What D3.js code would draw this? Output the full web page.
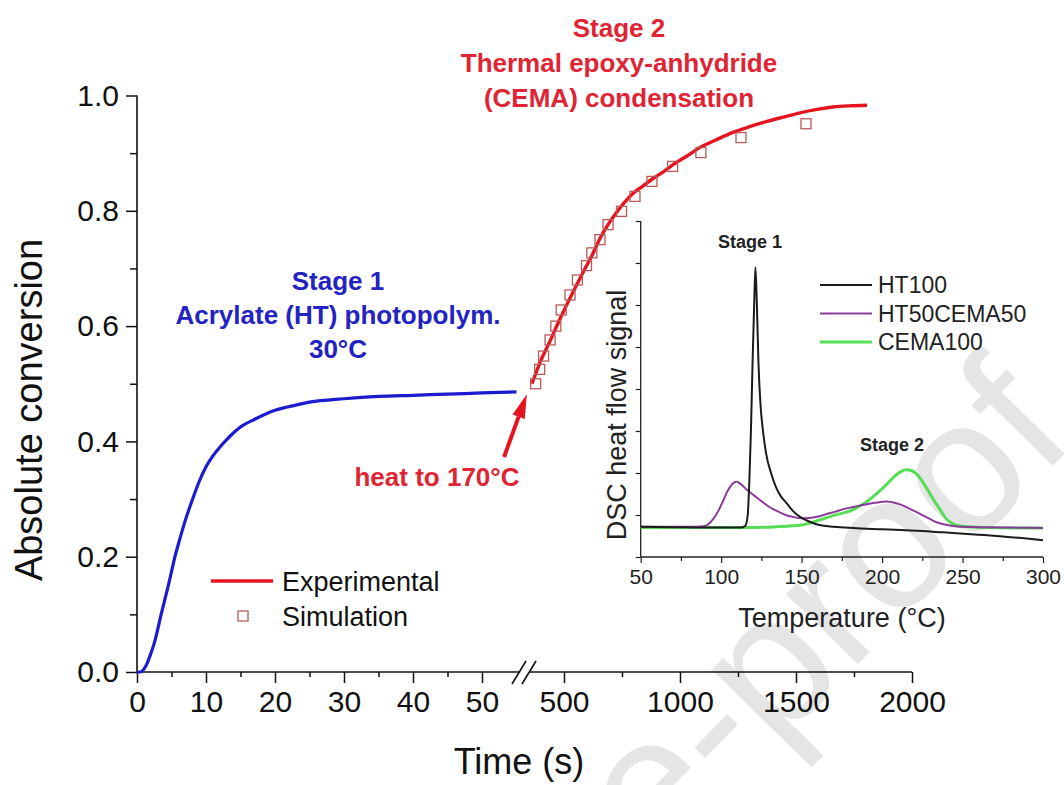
<!DOCTYPE html>
<html>
<head>
<meta charset="utf-8">
<script src="https://cdn.jsdelivr.net/npm/d3@7"></script>
<style>
  body { margin: 0; background: #fff; }
  svg { display: block; }
  text { font-family: "Liberation Sans", Arial, Helvetica, sans-serif; }
</style>
</head>
<body>
<svg id="chart" width="1064" height="785"></svg>
<script>
// ---- Stage 1: photopolymerisation at 30 °C (time in s, 0–55 s segment) ----
const stage1Time = [0, 0.5, 1, 1.5, 2, 2.5, 3, 3.5, 4, 4.5, 5, 5.5, 6, 7, 8, 9, 10, 11, 12, 13, 14, 15, 17, 20, 23, 25, 30, 35, 40, 45, 50, 55];
const stage1Conv = [0, 0, 0.005, 0.016, 0.032, 0.05, 0.074, 0.10, 0.124, 0.148, 0.174, 0.2, 0.222, 0.263, 0.298, 0.33, 0.356, 0.375, 0.39, 0.403, 0.415, 0.425, 0.438, 0.454, 0.463, 0.468, 0.474, 0.478, 0.480, 0.482, 0.484, 0.486];

// ---- Stage 2: thermal epoxy-anhydride condensation (time in s, 360–2000 s segment) ----
const stage2Time = [362, 400, 440, 480, 513, 550, 582, 620, 655, 690, 728, 760, 797, 840, 884, 930, 970, 1030, 1086, 1150, 1228, 1300, 1375, 1450, 1517, 1591, 1659, 1730, 1806];
const stage2Conv = [0.500, 0.540, 0.574, 0.610, 0.638, 0.668, 0.693, 0.722, 0.752, 0.776, 0.798, 0.814, 0.830, 0.843, 0.856, 0.868, 0.880, 0.895, 0.910, 0.922, 0.936, 0.946, 0.955, 0.963, 0.970, 0.976, 0.980, 0.982, 0.983];

// ---- Simulation points ----
const simTime = [378, 395, 412, 440, 465, 488, 526, 558, 597, 620, 655, 690, 748, 806, 879, 968, 1090, 1263, 1543];
const simConv = [0.500, 0.525, 0.548, 0.576, 0.600, 0.628, 0.654, 0.680, 0.705, 0.727, 0.750, 0.776, 0.799, 0.825, 0.851, 0.877, 0.901, 0.927, 0.951];

// ---- Axis ticks ----
const yTicks = [0, 0.2, 0.4, 0.6, 0.8, 1.0];
const yMinorTicks = [0.1, 0.3, 0.5, 0.7, 0.9];
const x1Ticks = [0, 10, 20, 30, 40, 50];
const x1MinorTicks = [5, 15, 25, 35, 45];
const x2Ticks = [500, 1000, 1500, 2000];
const x2MinorTicks = [750, 1250, 1750];

// ---- Inset: DSC heat flow (arb. units) vs temperature (°C) ----
const ht100Temp = [50, 70, 90, 105, 112, 115, 116.5, 117.5, 118.5, 119.5, 120.5, 121.3, 122.2, 123.2, 124.5, 126, 128, 131, 134, 137, 140.5, 145, 150, 155, 161, 170, 182, 200, 212, 230, 244, 260, 275, 290, 300];
const ht100Flow = [0.72, 0.71, 0.70, 0.70, 0.70, 0.74, 1.0, 1.8, 3.0, 4.6, 6.0, 6.9, 6.0, 4.6, 3.6, 3.0, 2.45, 2.0, 1.67, 1.45, 1.29, 1.08, 0.93, 0.84, 0.76, 0.72, 0.69, 0.66, 0.64, 0.61, 0.57, 0.53, 0.49, 0.44, 0.40];

const ht50Temp = [50, 70, 85, 89, 92, 95, 98, 101, 104, 107, 109.5, 112, 116, 120, 125, 130, 135, 140, 145, 150, 155, 161, 166, 171, 176, 182, 187, 192, 197, 202, 207, 212, 217, 223, 228, 233, 238, 244, 250, 260, 280, 300];
const ht50Flow = [0.72, 0.72, 0.72, 0.73, 0.78, 0.9, 1.08, 1.32, 1.57, 1.74, 1.79, 1.74, 1.6, 1.48, 1.33, 1.19, 1.09, 1.0, 0.95, 0.92, 0.93, 0.97, 1.03, 1.08, 1.14, 1.19, 1.23, 1.27, 1.30, 1.32, 1.30, 1.24, 1.15, 1.04, 0.94, 0.84, 0.78, 0.74, 0.72, 0.71, 0.70, 0.69];

const cema100Temp = [50, 80, 110, 130, 140, 150, 161, 170, 181.6, 187, 192, 197, 202.4, 208.6, 212, 215, 218, 221, 224, 227.2, 230, 233.4, 236.5, 239.6, 243.6, 248, 254, 265, 280, 300];
const cema100Flow = [0.70, 0.70, 0.70, 0.71, 0.73, 0.76, 0.88, 0.99, 1.12, 1.23, 1.36, 1.52, 1.71, 1.95, 2.04, 2.08, 2.06, 1.99, 1.86, 1.67, 1.49, 1.28, 1.10, 0.92, 0.80, 0.74, 0.72, 0.70, 0.69, 0.69];

const insetXTicks = [50, 100, 150, 200, 250, 300];
const insetXMinorTicks = [75, 125, 175, 225, 275];
const insetYTicks = [0, 1, 2, 3, 4, 5, 6, 7, 8];

const insetSeries = [
  { name: "HT100", t: ht100Temp, f: ht100Flow, color: "#1c1c1c", width: 2 },
  { name: "HT50CEMA50", t: ht50Temp, f: ht50Flow, color: "#8a3c98", width: 2 },
  { name: "CEMA100", t: cema100Temp, f: cema100Flow, color: "#55de55", width: 3 }
];

const BLUE = "#1b1bd0";
const BLUE_TEXT = "#2323c4";
const RED = "#e6141e";
const RED_TEXT = "#e02434";
const SIM = "#b85a5a";
const INK = "#111";

const svg = d3.select("#chart");

// ---- Watermark (behind everything) ----
svg.append("text")
  .attr("transform", "translate(1078,440) rotate(-45.5)")
  .attr("text-anchor", "end")
  .attr("font-size", 190)
  .attr("fill", "#e5e5e5")
  .text("Journal Pre-proof");

// ---- Main scales ----
const y = d3.scaleLinear().domain([0, 1]).range([672, 95.5]);
const x1 = d3.scaleLinear().domain([0, 55]).range([137, 516.5]);
const x2 = d3.scaleLinear().domain([360, 2000]).range([531.5, 912]);

// Styles an axis group: no domain path, uniform tick strokes and labels
function styleAxis(g, fontSize, color, sw) {
  g.selectAll(".domain").remove();
  g.selectAll("line").attr("stroke", color).attr("stroke-width", sw);
  g.selectAll("text").attr("font-size", fontSize).attr("fill", color);
  return g;
}

// Left axis: major ticks with labels, minor ticks in their own group
styleAxis(svg.append("g").attr("transform", "translate(137,0)")
  .call(d3.axisLeft(y).tickValues(yTicks).tickFormat(d3.format(".1f")).tickSize(11).tickPadding(7)), 30, INK, 1.5);
styleAxis(svg.append("g").attr("transform", "translate(137,0)")
  .call(d3.axisLeft(y).tickValues(yMinorTicks).tickFormat("").tickSize(7)), 30, INK, 1.5);
svg.append("line").attr("x1", 137).attr("x2", 137).attr("y1", y(0) + 0.75).attr("y2", y(1))
  .attr("stroke", INK).attr("stroke-width", 1.6);

// Bottom axis, two segments around the break
function bottomAxis(scale, ticks, minor) {
  styleAxis(svg.append("g").attr("transform", `translate(0,${y(0)})`)
    .call(d3.axisBottom(scale).tickValues(ticks).tickSize(11).tickPadding(8).tickFormat(d3.format("d"))), 30, INK, 1.5);
  styleAxis(svg.append("g").attr("transform", `translate(0,${y(0)})`)
    .call(d3.axisBottom(scale).tickValues(minor).tickSize(5).tickFormat("")), 30, INK, 1.5);
}
bottomAxis(x1, x1Ticks, x1MinorTicks);
bottomAxis(x2, x2Ticks, x2MinorTicks);

// Axis line with break marks
const breakA = 519, breakB = 529;
svg.append("line").attr("x1", 137).attr("x2", breakA).attr("y1", y(0)).attr("y2", y(0))
  .attr("stroke", INK).attr("stroke-width", 1.6);
svg.append("line").attr("x1", breakB).attr("x2", x2(2000)).attr("y1", y(0)).attr("y2", y(0))
  .attr("stroke", INK).attr("stroke-width", 1.6);
[breakA, breakB].forEach(bx => {
  svg.append("line").attr("x1", bx - 7).attr("y1", y(0) + 12).attr("x2", bx + 7).attr("y2", y(0) - 11)
    .attr("stroke", INK).attr("stroke-width", 1.6);
});

// Axis titles
svg.append("text")
  .attr("transform", "translate(42,410) rotate(-90)")
  .attr("text-anchor", "middle")
  .attr("font-size", 38).attr("fill", INK)
  .text("Absolute conversion");
svg.append("text")
  .attr("x", 519).attr("y", 774)
  .attr("text-anchor", "middle")
  .attr("font-size", 36).attr("fill", INK)
  .text("Time (s)");

// ---- Curves ----
const line1 = d3.line().x((d, i) => x1(stage1Time[i])).y(d => y(d)).curve(d3.curveMonotoneX);
svg.append("path").attr("d", line1(stage1Conv))
  .attr("fill", "none").attr("stroke", BLUE).attr("stroke-width", 3.2);

const line2 = d3.line().x((d, i) => x2(stage2Time[i])).y(d => y(d)).curve(d3.curveMonotoneX);
svg.append("path").attr("d", line2(stage2Conv))
  .attr("fill", "none").attr("stroke", RED).attr("stroke-width", 3.4);

// Simulation squares
const sq = 10;
svg.append("g").selectAll("rect").data(simConv).join("rect")
  .attr("x", (d, i) => x2(simTime[i]) - sq / 2)
  .attr("y", d => y(d) - sq / 2)
  .attr("width", sq).attr("height", sq)
  .attr("fill", "none").attr("stroke", SIM).attr("stroke-width", 1.3);

// ---- Legend ----
svg.append("line").attr("x1", 211).attr("x2", 273).attr("y1", 581).attr("y2", 581)
  .attr("stroke", RED).attr("stroke-width", 3.4);
svg.append("text").attr("x", 282).attr("y", 591).attr("font-size", 27).attr("fill", INK).text("Experimental");
svg.append("rect").attr("x", 238).attr("y", 611).attr("width", sq).attr("height", sq)
  .attr("fill", "none").attr("stroke", SIM).attr("stroke-width", 1.3);
svg.append("text").attr("x", 282).attr("y", 626).attr("font-size", 27).attr("fill", INK).text("Simulation");

// ---- Annotations ----
const stage1Lines = ["Stage 1", "Acrylate (HT) photopolym.", "30°C"];
svg.append("g").selectAll("text").data(stage1Lines).join("text")
  .attr("x", 338).attr("y", (d, i) => 290 + i * 34)
  .attr("text-anchor", "middle").attr("font-size", 26).attr("font-weight", "bold")
  .attr("fill", BLUE_TEXT).text(d => d);

const stage2Lines = ["Stage 2", "Thermal epoxy-anhydride", "(CEMA) condensation"];
svg.append("g").selectAll("text").data(stage2Lines).join("text")
  .attr("x", 619).attr("y", (d, i) => 37 + i * 35)
  .attr("text-anchor", "middle").attr("font-size", 26).attr("font-weight", "bold")
  .attr("fill", RED_TEXT).text(d => d);

svg.append("text").attr("x", 437).attr("y", 486)
  .attr("text-anchor", "middle").attr("font-size", 26).attr("font-weight", "bold")
  .attr("fill", RED_TEXT).text("heat to 170°C");

// Arrow pointing at the heating step (in data units of the first segment)
const arrowTail = [x1(53.2), y(0.373)];
const arrowTip = [x1(56.5), y(0.482)];
const ang = Math.atan2(arrowTip[1] - arrowTail[1], arrowTip[0] - arrowTail[0]);
const headLen = 24, headHalf = 6.5;
const hb = [arrowTip[0] - headLen * Math.cos(ang), arrowTip[1] - headLen * Math.sin(ang)];
svg.append("line")
  .attr("x1", arrowTail[0]).attr("y1", arrowTail[1]).attr("x2", hb[0]).attr("y2", hb[1])
  .attr("stroke", RED).attr("stroke-width", 4);
svg.append("path")
  .attr("d", d3.line()([
    arrowTip,
    [hb[0] + headHalf * Math.sin(ang), hb[1] - headHalf * Math.cos(ang)],
    [hb[0] - headHalf * Math.sin(ang), hb[1] + headHalf * Math.cos(ang)]
  ]) + "Z")
  .attr("fill", RED);

// ---- Inset ----
const xi = d3.scaleLinear().domain([50, 300]).range([640.7, 1043]);
const yi = d3.scaleLinear().domain([0, 8]).range([557, 221]);
const INSET_INK = "#222";

styleAxis(svg.append("g").attr("transform", `translate(0,${yi(0)})`)
  .call(d3.axisBottom(xi).tickValues(insetXTicks).tickSize(6).tickPadding(6)), 21, INSET_INK, 1.2);
styleAxis(svg.append("g").attr("transform", `translate(0,${yi(0)})`)
  .call(d3.axisBottom(xi).tickValues(insetXMinorTicks).tickSize(4).tickFormat("")), 21, INSET_INK, 1.2);
svg.append("line").attr("x1", xi(50)).attr("x2", xi(300)).attr("y1", yi(0)).attr("y2", yi(0))
  .attr("stroke", INSET_INK).attr("stroke-width", 1.3);

styleAxis(svg.append("g").attr("transform", `translate(${xi(50)},0)`)
  .call(d3.axisLeft(yi).tickValues(insetYTicks).tickSize(5).tickFormat("")), 21, INSET_INK, 1.2);
svg.append("line").attr("x1", xi(50)).attr("x2", xi(50)).attr("y1", yi(0)).attr("y2", yi(8))
  .attr("stroke", INSET_INK).attr("stroke-width", 1.3);

svg.append("text")
  .attr("transform", "translate(626,415) rotate(-90)")
  .attr("text-anchor", "middle").attr("font-size", 27).attr("fill", INSET_INK)
  .text("DSC heat flow signal");
svg.append("text")
  .attr("x", 842).attr("y", 627)
  .attr("text-anchor", "middle").attr("font-size", 27).attr("fill", INSET_INK)
  .text("Temperature (°C)");

const insetLine = d3.line().curve(d3.curveMonotoneX);
svg.append("g").selectAll("path").data(insetSeries.slice().reverse()).join("path")
  .attr("d", s => insetLine(s.t.map((t, i) => [xi(t), yi(s.f[i])])))
  .attr("fill", "none")
  .attr("stroke", s => s.color)
  .attr("stroke-width", s => s.width);

// Inset legend
const ilg = svg.append("g").selectAll("g").data(insetSeries).join("g")
  .attr("transform", (d, i) => `translate(820,${285 + i * 28.5})`);
ilg.append("line").attr("x1", 0).attr("x2", 52)
  .attr("stroke", d => d.color).attr("stroke-width", d => d.width);
ilg.append("text").attr("x", 58).attr("dy", "0.36em")
  .attr("font-size", 23).attr("fill", INSET_INK).text(d => d.name);

svg.append("text").attr("x", 750).attr("y", 248)
  .attr("text-anchor", "middle").attr("font-size", 18).attr("font-weight", "bold")
  .attr("fill", INSET_INK).text("Stage 1");
svg.append("text").attr("x", 892).attr("y", 451)
  .attr("text-anchor", "middle").attr("font-size", 18).attr("font-weight", "bold")
  .attr("fill", INSET_INK).text("Stage 2");
</script>
</body>
</html>
